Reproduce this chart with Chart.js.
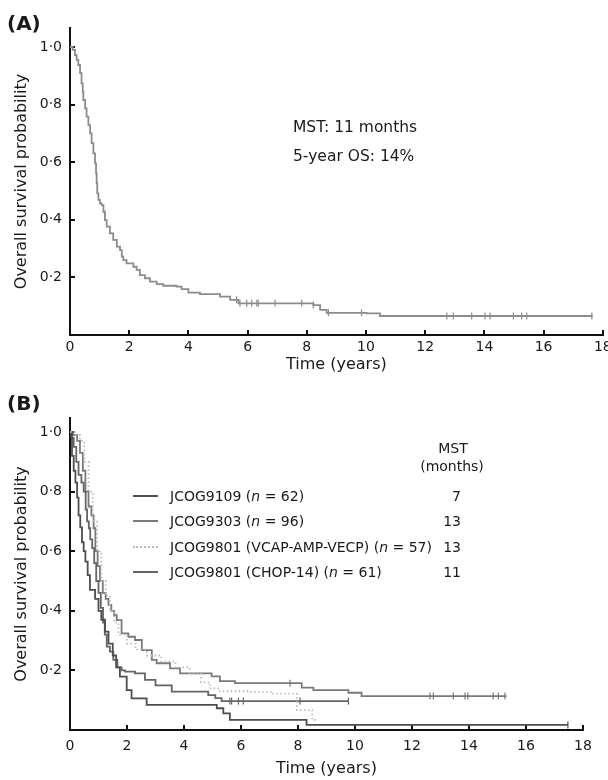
<!DOCTYPE html>
<html>
<head>
<meta charset="utf-8">
<script src="https://cdn.jsdelivr.net/npm/chart.js@4.4.1/dist/chart.umd.min.js"></script>
<style>
  body { margin: 0; background: #fff; }
  #page { position: relative; width: 608px; height: 780px; overflow: hidden; font-family: "DejaVu Sans", sans-serif; color: #1a1a1a; }
  canvas { position: absolute; left: 0; }
  .txt { position: absolute; white-space: nowrap; line-height: 1; transform: translateY(-50%); }
  .lbl { font-weight: bold; font-size: 20px; }
  .note { font-size: 15.5px; }
  .leg { font-size: 14px; }
  .swatch { position: absolute; width: 25px; height: 0; }
</style>
</head>
<body>
<div id="page">
  <canvas id="chartA" width="608" height="380" style="top:0"></canvas>
  <canvas id="chartB" width="608" height="400" style="top:380px"></canvas>

  <div class="txt lbl" style="left:7px; top:23px">(A)</div>
  <div class="txt note" style="left:293px; top:128px">MST: 11 months</div>
  <div class="txt note" style="left:293px; top:157px">5-year OS: 14%</div>

  <div class="txt lbl" style="left:7px; top:403px">(B)</div>
  <div id="legendB"></div>
</div>

<script>
// ---- panel A: all patients ----
const timesA = [0, 0.09, 0.17, 0.225, 0.28, 0.34, 0.39, 0.43, 0.45, 0.51, 0.56, 0.62, 0.68, 0.73, 0.79, 0.845, 0.88, 0.90, 0.92, 0.96, 1.01, 1.07, 1.13, 1.18, 1.24, 1.35, 1.46, 1.58, 1.69, 1.75, 1.80, 1.91, 2.14, 2.25, 2.36, 2.53, 2.70, 2.93, 3.15, 3.60, 3.77, 4.0, 4.39, 5.07, 5.41, 5.69, 8.22, 8.45, 8.67, 10.02, 10.47, 17.66];
const survA  = [1, 0.99, 0.972, 0.955, 0.9375, 0.909, 0.874, 0.845, 0.816, 0.787, 0.758, 0.729, 0.70, 0.666, 0.631, 0.596, 0.561, 0.527, 0.492, 0.469, 0.457, 0.451, 0.428, 0.399, 0.376, 0.353, 0.33, 0.307, 0.295, 0.272, 0.26, 0.249, 0.237, 0.226, 0.208, 0.197, 0.185, 0.177, 0.171, 0.168, 0.159, 0.147, 0.142, 0.133, 0.122, 0.110, 0.104, 0.087, 0.077, 0.075, 0.066, 0.066];
const censorA = [5.63, 5.74, 5.97, 6.14, 6.31, 6.36, 6.93, 7.83, 8.22, 8.73, 9.85, 12.73, 12.95, 13.57, 14.02, 14.19, 14.98, 15.26, 15.43, 17.63];

// ---- panel B: by trial ----
const trialNames = ["JCOG9109", "JCOG9303", "JCOG9801 (VCAP-AMP-VECP)", "JCOG9801 (CHOP-14)"];
const trialN     = [62, 96, 57, 61];
const trialMST   = [7, 13, 13, 11];

const times9109 = [0, 0.07, 0.13, 0.19, 0.25, 0.30, 0.36, 0.42, 0.48, 0.54, 0.62, 0.70, 0.88, 1.00, 1.10, 1.23, 1.35, 1.50, 1.62, 1.75, 1.99, 2.16, 2.69, 5.15, 5.38, 5.61, 8.30, 17.47];
const surv9109  = [1, 0.92, 0.87, 0.83, 0.78, 0.72, 0.68, 0.63, 0.60, 0.565, 0.52, 0.47, 0.44, 0.40, 0.37, 0.33, 0.29, 0.25, 0.21, 0.179, 0.134, 0.106, 0.084, 0.073, 0.056, 0.034, 0.017, 0.017];
const censor9109 = [17.47];

const times9303 = [0, 0.10, 0.25, 0.35, 0.45, 0.54, 0.65, 0.75, 0.83, 0.89, 0.97, 1.05, 1.15, 1.25, 1.35, 1.45, 1.55, 1.64, 1.81, 2.05, 2.28, 2.52, 2.87, 3.04, 3.51, 3.86, 4.97, 5.26, 5.79, 8.13, 8.54, 9.77, 10.23, 15.32];
const surv9303  = [1, 0.99, 0.97, 0.93, 0.87, 0.80, 0.75, 0.72, 0.677, 0.60, 0.55, 0.50, 0.46, 0.44, 0.42, 0.40, 0.385, 0.369, 0.324, 0.313, 0.302, 0.268, 0.235, 0.224, 0.207, 0.19, 0.18, 0.164, 0.157, 0.142, 0.134, 0.125, 0.114, 0.114];
const censor9303 = [7.72, 12.63, 12.75, 13.45, 13.86, 13.96, 14.85, 15.03, 15.26];

const timesVcap = [0, 0.2, 0.35, 0.5, 0.65, 0.8, 0.95, 1.1, 1.25, 1.4, 1.55, 1.7, 2.0, 2.3, 2.7, 3.2, 3.7, 4.2, 4.6, 4.9, 5.2, 6.3, 7.1, 7.96, 8.5, 8.7];
const survVcap  = [1, 0.99, 0.97, 0.9, 0.8, 0.7, 0.6, 0.5, 0.45, 0.4, 0.36, 0.32, 0.29, 0.27, 0.25, 0.23, 0.21, 0.19, 0.16, 0.14, 0.13, 0.128, 0.122, 0.067, 0.034, 0.034];

const timesChop = [0, 0.05, 0.13, 0.22, 0.30, 0.40, 0.48, 0.55, 0.60, 0.66, 0.71, 0.78, 0.85, 0.92, 1.0, 1.08, 1.16, 1.22, 1.29, 1.40, 1.52, 1.66, 1.81, 1.93, 2.28, 2.63, 3.0, 3.57, 4.85, 5.10, 5.32, 9.77];
const survChop  = [1, 0.98, 0.95, 0.90, 0.856, 0.83, 0.80, 0.74, 0.70, 0.677, 0.64, 0.61, 0.56, 0.50, 0.46, 0.41, 0.36, 0.32, 0.28, 0.263, 0.235, 0.21, 0.20, 0.196, 0.19, 0.168, 0.15, 0.129, 0.117, 0.107, 0.097, 0.097];
const censorChop = [5.61, 5.67, 5.91, 6.08, 8.07, 9.77];

const colA = "#8c8c8c";
const trialColors = ["#4e4e4e", "#7a7a7a", "#bcbcbc", "#656565"];

Chart.defaults.font.family = "'DejaVu Sans', sans-serif";
Chart.defaults.color = "#1a1a1a";

function toPoints(ts, ss) {
  return ts.map((t, i) => ({ x: t, y: ss[i] }));
}
// survival at censor time
function censorPoints(cs, ts, ss) {
  return cs.map(c => {
    let i = 0;
    while (i + 1 < ts.length && ts[i + 1] <= c) i++;
    return { x: c, y: ss[i] };
  });
}
function curve(data, color, dash) {
  return { data: data, stepped: true, borderColor: color, borderWidth: 1.8,
           borderDash: dash || [], pointRadius: 0, fill: false };
}
function ticks(data, color) {
  return { data: data, showLine: false, pointStyle: "line", rotation: 90, pointRadius: 3.5,
           pointBorderWidth: 1.2, pointBorderColor: color, borderColor: color };
}

function options(cfg) {
  return {
    responsive: false,
    animation: false,
    layout: { padding: { top: cfg.top, right: cfg.right, left: 0, bottom: 0 } },
    plugins: { legend: { display: false }, tooltip: { enabled: false } },
    scales: {
      x: {
        type: "linear", min: 0, max: 18,
        border: { display: true, color: "#111", width: 2 },
        grid: { drawOnChartArea: false, drawTicks: true, tickLength: -5, color: "#111", lineWidth: 2 },
        ticks: { stepSize: 2, padding: cfg.xPad, font: { size: 14 }, maxRotation: 0, autoSkip: false },
        title: { display: true, text: "Time (years)", font: { size: 16 }, padding: { top: 0, bottom: cfg.titleBottom } },
        afterFit: s => { s.height = cfg.xHeight; s.paddingLeft = 0; s.paddingRight = 0; }
      },
      y: {
        min: 0, max: cfg.yMax,
        border: { display: true, color: "#111", width: 2 },
        grid: { drawOnChartArea: false, drawTicks: true, tickLength: -5, color: "#111", lineWidth: 2 },
        ticks: { stepSize: 0.2, includeBounds: false, padding: 13, font: { size: 14 },
                 callback: v => v === 0 ? "" : v.toFixed(1).replace(".", "\u00B7") },
        title: { display: true, text: "Overall survival probability", font: { size: 16 }, padding: { top: 12, bottom: 0 } },
        afterFit: s => { s.width = 70; s.paddingTop = 0; s.paddingBottom = 0; }
      }
    }
  };
}

new Chart(document.getElementById("chartA"), {
  type: "line",
  data: { datasets: [
    curve(toPoints(timesA, survA), colA),
    ticks(censorPoints(censorA, timesA, survA), colA)
  ] },
  options: options({ top: 28, right: 5, xHeight: 45, xPad: 9, titleBottom: 6, yMax: 1.066 })
});

new Chart(document.getElementById("chartB"), {
  type: "line",
  data: { datasets: [
    curve(toPoints(timesVcap, survVcap), trialColors[2], [1.5, 2.5]),
    curve(toPoints(times9109, surv9109), trialColors[0]),
    ticks(censorPoints(censor9109, times9109, surv9109), trialColors[0]),
    curve(toPoints(timesChop, survChop), trialColors[3]),
    ticks(censorPoints(censorChop, timesChop, survChop), trialColors[3]),
    curve(toPoints(times9303, surv9303), trialColors[1]),
    ticks(censorPoints(censor9303, times9303, surv9303), trialColors[1])
  ] },
  options: options({ top: 38, right: 25, xHeight: 50, xPad: 13, titleBottom: 2, yMax: 1.047 })
});

// legend for panel B
const legend = document.getElementById("legendB");
const rowY = [496, 521, 547, 572];
let html = '<div class="txt leg" style="left:453px; top:448px; transform:translate(-50%,-50%)">MST</div>' +
           '<div class="txt leg" style="left:452px; top:466px; transform:translate(-50%,-50%)">(months)</div>';
trialNames.forEach((name, i) => {
  const dashed = i === 2;
  html += '<div class="swatch" style="left:133px; top:' + (rowY[i] - 1) + 'px; border-top:2px ' +
          (dashed ? 'dotted' : 'solid') + ' ' + trialColors[i] + '"></div>';
  html += '<div class="txt leg" style="left:170px; top:' + rowY[i] + 'px">' + name +
          ' (<i>n</i> = ' + trialN[i] + ')</div>';
  html += '<div class="txt leg" style="right:' + (608 - 461) + 'px; top:' + rowY[i] + 'px">' + trialMST[i] + '</div>';
});
legend.innerHTML = html;
</script>
</body>
</html>
